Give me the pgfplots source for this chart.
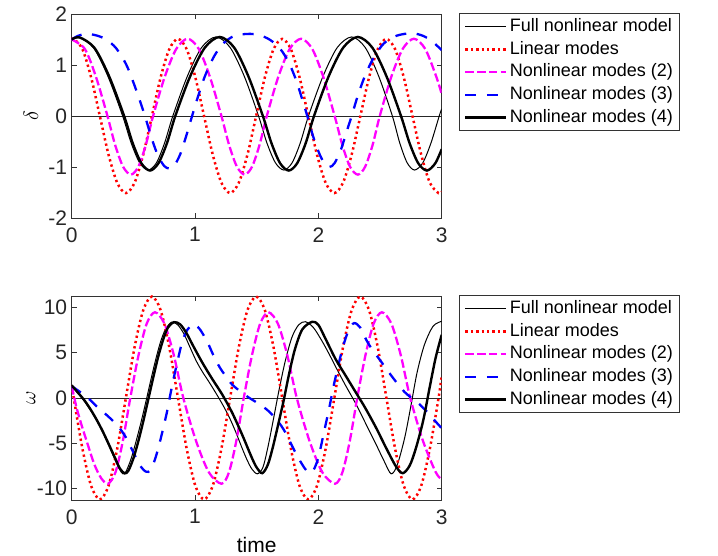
\documentclass[border=0pt]{standalone}
\usepackage{fontspec}
\setmainfont{Liberation Sans}
\usepackage{pgfplots}
\pgfplotsset{compat=1.18}
\definecolor{mmag}{rgb}{1,0,1}
\definecolor{mblue}{rgb}{0,0,1}
\definecolor{mred}{rgb}{1,0,0}

\pgfplotsset{
 mystyle/.style={
  scale only axis, width=370pt, height=204pt, anchor=south west,
  xmin=0, xmax=3, xtick={0,1,2,3}, xticklabels={0,1,2,3},
  tick align=inside, major tick length=5pt,
  axis line style={black!80, line width=0.8pt},
  every tick/.style={black!80, line width=0.8pt},
  ticklabel style={font=\fontsize{21}{24}\selectfont, text=black!85},
  xticklabel style={yshift=-6pt},
  yticklabel style={xshift=-1pt},
  label style={font=\fontsize{21}{24}\selectfont},
  ylabel style={at={(axis description cs:-0.110,0.5)}, anchor=center},
  legend style={at={(1.0476,1.003)}, anchor=north west, draw=black!80, line width=0.8pt,
    font=\fontsize{18}{20}\selectfont, cells={anchor=west}, inner xsep=4.5pt, inner ysep=1.5pt,
    row sep=0pt, nodes={inner xsep=2.2pt, inner ysep=2.6pt, text height=13.5pt, text depth=4pt}},
  legend image code/.code={\draw[#1] (0pt,0pt) -- (41pt,0pt);},
 },
 fullnl/.style={black, line width=1pt, smooth},
 linm/.style={mred, line width=2.5pt, dash pattern=on 2.3pt off 3.1pt, smooth},
 nl2/.style={mmag, line width=2.3pt, dash pattern=on 8.5pt off 3.2pt, smooth},
 nl3/.style={mblue, line width=2.3pt, dash pattern=on 11pt off 10.5pt, smooth},
 nl4/.style={black, line width=2.4pt, smooth},
 zline/.style={black!85, line width=0.8pt, forget plot},
}

\begin{document}
\begin{tikzpicture}
\useasboundingbox (0pt,0pt) rectangle (718pt,556pt);

% ---------------- top: delta ----------------
\begin{axis}[mystyle, at={(71.7pt,338pt)},
  ymin=-2, ymax=2, ytick={-2,-1,0,1,2}, yticklabels={-2,-1,0,1,2},
  ylabel={$\delta$}]
\addplot[zline] coordinates {(0,0) (3,0)};
\addplot[fullnl] coordinates {
(0,1.50) (0.06,1.54) (0.178,1.334) (0.295,0.77) (0.413,0) (0.482,-0.53) (0.551,-0.918) (0.62,-1.06)
(0.687,-0.918) (0.753,-0.53) (0.82,0) (0.937,0.775) (1.053,1.342) (1.17,1.55) (1.285,1.342) (1.40,0.775)
(1.515,0) (1.583,-0.53) (1.652,-0.918) (1.72,-1.06) (1.787,-0.918) (1.853,-0.53) (1.92,0) (2.037,0.775)
(2.153,1.342) (2.27,1.55) (2.38,1.342) (2.49,0.775) (2.60,0) (2.66,-0.53) (2.72,-0.918) (2.78,-1.06)
(2.847,-0.918) (2.913,-0.53) (2.98,0) (3.0,0.14)};
\addlegendentry{Full nonlinear model}
\addplot[linm] coordinates {
(0,1.50) (0.0168,1.512) (0.0872,1.309) (0.1576,0.756) (0.2281,0) (0.2985,-0.756) (0.3689,-1.309)
(0.4393,-1.512) (0.5097,-1.309) (0.5802,-0.756) (0.6506,0) (0.7210,0.756) (0.7914,1.309) (0.8618,1.512)
(0.9323,1.309) (1.0027,0.756) (1.0731,0) (1.1435,-0.756) (1.2139,-1.309) (1.2844,-1.512) (1.3548,-1.309)
(1.4252,-0.756) (1.4956,0) (1.5660,0.756) (1.6365,1.309) (1.7069,1.512) (1.7773,1.309) (1.8477,0.756)
(1.9181,0) (1.9886,-0.756) (2.0590,-1.309) (2.1294,-1.512) (2.1998,-1.309) (2.2702,-0.756) (2.3407,0)
(2.4111,0.756) (2.4815,1.309) (2.5519,1.512) (2.6223,1.309) (2.6928,0.756) (2.7632,0) (2.8336,-0.756)
(2.9040,-1.309) (2.9744,-1.512) (3.0,-1.484)};
\addlegendentry{Linear modes}
\addplot[nl2] coordinates {
(0,1.50) (0.107,1.312) (0.198,0.758) (0.290,0) (0.353,-0.575) (0.417,-0.996) (0.480,-1.15)
(0.540,-0.996) (0.600,-0.575) (0.660,0) (0.753,0.758) (0.847,1.312) (0.940,1.515) (1.031,1.312)
(1.122,0.758) (1.214,0) (1.277,-0.575) (1.340,-0.996) (1.403,-1.15) (1.462,-0.996) (1.522,-0.575)
(1.582,0) (1.674,0.758) (1.767,1.312) (1.86,1.515) (1.951,1.312) (2.041,0.758) (2.132,0) (2.195,-0.575)
(2.257,-0.996) (2.32,-1.15) (2.379,-0.996) (2.439,-0.575) (2.498,0) (2.59,0.758) (2.683,1.312)
(2.775,1.515) (2.867,1.312) (2.958,0.758) (3.0,0.43)};
\addlegendentry{Nonlinear modes (2)}
\addplot[nl3] coordinates {
(0,1.50) (0.05,1.57) (0.12,1.61) (0.20,1.58) (0.28,1.50) (0.36,1.33) (0.44,1.02) (0.50,0.66) (0.56,0.25)
(0.60,-0.05) (0.65,-0.45) (0.70,-0.78) (0.75,-0.98) (0.79,-1.03) (0.83,-0.98) (0.88,-0.75) (0.93,-0.38)
(0.97,-0.05) (1.02,0.35) (1.08,0.78) (1.15,1.15) (1.22,1.40) (1.30,1.55) (1.38,1.60) (1.45,1.61)
(1.53,1.58) (1.61,1.49) (1.69,1.32) (1.76,1.05) (1.82,0.70) (1.87,0.32) (1.91,0.0) (1.96,-0.42)
(2.01,-0.75) (2.05,-0.93) (2.09,-1.0) (2.13,-0.93) (2.18,-0.68) (2.23,-0.30) (2.27,0.0) (2.32,0.40)
(2.38,0.80) (2.45,1.15) (2.53,1.42) (2.62,1.56) (2.70,1.61) (2.775,1.62) (2.85,1.57) (2.92,1.47) (3.00,1.29)};
\addlegendentry{Nonlinear modes (3)}
\addplot[nl4] coordinates {
(0,1.50) (0.065,1.54) (0.185,1.334) (0.305,0.77) (0.425,0) (0.495,-0.535) (0.565,-0.927) (0.635,-1.07)
(0.703,-0.927) (0.772,-0.535) (0.84,0) (0.96,0.775) (1.08,1.342) (1.20,1.55) (1.317,1.342) (1.433,0.775)
(1.55,0) (1.62,-0.535) (1.69,-0.927) (1.76,-1.07) (1.828,-0.927) (1.897,-0.535) (1.965,0) (2.083,0.775)
(2.202,1.342) (2.32,1.55) (2.437,1.342) (2.553,0.775) (2.67,0) (2.74,-0.535) (2.81,-0.927) (2.88,-1.07)
(2.948,-0.927) (3.0,-0.65)};
\addlegendentry{Nonlinear modes (4)}
\end{axis}

% ---------------- bottom: omega ----------------
\begin{axis}[mystyle, at={(71.7pt,56pt)},
  ymin=-11.3, ymax=11.3, ytick={-10,-5,0,5,10}, yticklabels={-10,-5,0,5,10},
  ylabel={$\omega$}, xlabel={time},
  xlabel style={at={(axis description cs:0.5,-0.2206)}, anchor=center}]
\addplot[zline] coordinates {(0,0) (3,0)};
\addplot[fullnl] coordinates {
(0,1.40) (0.05,0.55) (0.10,-0.30) (0.15,-1.30) (0.20,-2.45) (0.25,-3.75) (0.30,-5.25) (0.35,-6.80)
(0.39,-7.95) (0.415,-8.40) (0.44,-8.15) (0.48,-6.80) (0.52,-4.90) (0.56,-2.80) (0.60,-0.50) (0.64,1.90)
(0.68,4.20) (0.72,6.20) (0.76,7.60) (0.81,8.40) (0.86,8.10) (0.91,7.10) (0.96,5.60) (1.01,4.10)
(1.06,2.90) (1.11,1.85) (1.16,0.75) (1.21,-0.40) (1.26,-1.65) (1.30,-2.80) (1.34,-4.10) (1.38,-5.50)
(1.42,-6.80) (1.46,-7.85) (1.505,-8.40) (1.55,-7.70) (1.59,-5.50) (1.635,-2.40) (1.68,0.80) (1.73,4.00)
(1.785,6.70) (1.84,8.10) (1.895,8.45) (1.96,7.80) (2.03,6.30) (2.09,4.80) (2.15,3.20) (2.22,1.40)
(2.30,-0.55) (2.39,-3.00) (2.47,-5.20) (2.53,-6.90) (2.59,-8.40) (2.64,-7.40) (2.70,-4.40) (2.75,-0.90)
(2.80,2.80) (2.86,5.90) (2.93,7.95) (3.0,8.50)};
\addlegendentry{Full nonlinear model}
\addplot[linm] coordinates {
(0,1.40) (0.0168,0) (0.0872,-5.62) (0.1576,-9.734) (0.2281,-11.24) (0.2985,-9.734) (0.3689,-5.62)
(0.4393,0) (0.5097,5.62) (0.5802,9.734) (0.6506,11.24) (0.7210,9.734) (0.7914,5.62) (0.8618,0)
(0.9323,-5.62) (1.0027,-9.734) (1.0731,-11.24) (1.1435,-9.734) (1.2139,-5.62) (1.2844,0) (1.3548,5.62)
(1.4252,9.734) (1.4956,11.24) (1.5660,9.734) (1.6365,5.62) (1.7069,0) (1.7773,-5.62) (1.8477,-9.734)
(1.9181,-11.24) (1.9886,-9.734) (2.0590,-5.62) (2.1294,0) (2.1998,5.62) (2.2702,9.734) (2.3407,11.24)
(2.4111,9.734) (2.4815,5.62) (2.5519,0) (2.6223,-5.62) (2.6928,-9.734) (2.7632,-11.24) (2.8336,-9.734)
(2.9040,-5.62) (2.9744,0) (3.0,2.4)};
\addlegendentry{Linear modes}
\addplot[nl2] coordinates {
(0,1.30) (0.04,-1.10) (0.08,-3.00) (0.13,-5.15) (0.185,-7.40) (0.24,-8.90) (0.295,-9.50) (0.355,-8.23)
(0.415,-4.75) (0.475,0) (0.542,4.75) (0.608,8.23) (0.675,9.50) (0.752,8.23) (0.828,4.75) (0.905,0)
(1.008,-4.75) (1.112,-8.23) (1.215,-9.50) (1.275,-8.23) (1.335,-4.75) (1.395,0) (1.462,4.75) (1.528,8.23)
(1.595,9.50) (1.672,8.23) (1.748,4.75) (1.825,0) (1.928,-4.75) (2.032,-8.23) (2.135,-9.50) (2.195,-8.23)
(2.255,-4.75) (2.315,0) (2.382,4.75) (2.448,8.23) (2.515,9.50) (2.592,8.23) (2.668,4.75) (2.745,0)
(2.848,-4.75) (2.952,-8.23) (3.0,-9.0)};
\addlegendentry{Nonlinear modes (2)}
\addplot[nl3] coordinates {
(0,1.30) (0.07,0.65) (0.14,-0.10) (0.20,-0.90) (0.26,-1.60) (0.32,-2.35) (0.38,-3.20) (0.43,-4.15)
(0.47,-5.20) (0.51,-6.30) (0.55,-7.40) (0.60,-8.15) (0.64,-8.00) (0.68,-6.60) (0.72,-4.60) (0.77,-1.70)
(0.80,0.40) (0.835,2.70) (0.87,4.80) (0.90,6.40) (0.94,7.60) (0.99,8.20) (1.04,7.60) (1.10,6.20)
(1.15,4.70) (1.20,3.40) (1.25,2.40) (1.30,1.50) (1.37,0.70) (1.43,0.10) (1.50,-0.50) (1.57,-1.15)
(1.63,-1.90) (1.69,-2.90) (1.74,-4.00) (1.79,-5.40) (1.84,-6.70) (1.89,-7.80) (1.925,-8.30) (1.96,-8.00)
(2.00,-6.60) (2.05,-3.50) (2.09,-1.00) (2.12,1.10) (2.16,3.50) (2.20,5.70) (2.245,7.50) (2.29,8.30)
(2.34,7.80) (2.39,6.40) (2.44,5.30) (2.50,4.20) (2.59,2.50) (2.70,0.65) (2.82,-0.70) (2.90,-1.80)
(2.95,-2.60) (3.00,-3.35)};
\addlegendentry{Nonlinear modes (3)}
\addplot[nl4] coordinates {
(0,1.40) (0.05,0.60) (0.10,-0.20) (0.15,-1.20) (0.20,-2.35) (0.25,-3.65) (0.30,-5.10) (0.35,-6.60)
(0.39,-7.80) (0.43,-8.35) (0.46,-8.05) (0.50,-6.70) (0.54,-4.80) (0.58,-2.60) (0.62,-0.20) (0.66,2.20)
(0.70,4.50) (0.74,6.40) (0.78,7.80) (0.83,8.40) (0.88,8.15) (0.93,7.20) (0.98,5.90) (1.06,3.90)
(1.14,2.10) (1.22,0.40) (1.30,-1.60) (1.38,-4.00) (1.46,-6.60) (1.50,-7.70) (1.545,-8.33) (1.59,-7.40)
(1.63,-5.50) (1.68,-2.60) (1.72,-0.20) (1.76,2.50) (1.81,5.40) (1.87,7.60) (1.95,8.44) (2.00,8.10)
(2.06,6.50) (2.14,4.30) (2.22,2.50) (2.30,0.70) (2.38,-1.10) (2.47,-3.35) (2.55,-5.55) (2.63,-7.60)
(2.684,-8.33) (2.74,-7.50) (2.79,-5.60) (2.85,-2.50) (2.90,1.00) (2.95,4.40) (3.0,7.00)};
\addlegendentry{Nonlinear modes (4)}
\end{axis}
\end{tikzpicture}
\end{document}
